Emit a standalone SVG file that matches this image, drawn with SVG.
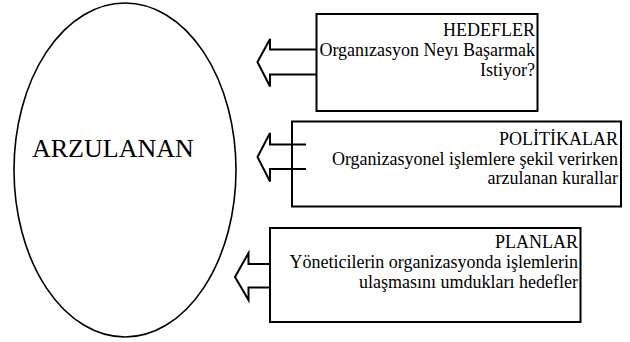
<svg xmlns="http://www.w3.org/2000/svg" width="630" height="342" viewBox="0 0 630 342">
<style>
.box{fill:#fff;stroke:#000;stroke-width:2}
.oval{fill:#fff;stroke:#000;stroke-width:1.6}
.t{font-size:18px;fill:#000;text-anchor:end}
.big{font-size:26px;fill:#000}
.arr{fill:none;stroke:#000;stroke-width:2;stroke-linejoin:miter}
</style>
<rect width="630" height="342" fill="#fff"/>
<g font-family="Liberation Serif, DejaVu Serif, serif">
<g id="arzulanan">
<ellipse class="oval" cx="125" cy="170" rx="111" ry="167"/>
<text class="big" x="32" y="157">ARZULANAN</text>
</g>
<g id="hedefler">
<rect class="box" x="316.5" y="14" width="221" height="97"/>
<text class="t" x="535" y="36">HEDEFLER</text>
<text class="t" x="535" y="56">Organızasyon Neyı Başarmak</text>
<text class="t" x="535" y="76">Istiyor?</text>
</g>
<g id="politikalar">
<rect class="box" x="292" y="121.5" width="329" height="85"/>
<text class="t" x="618" y="145">POLİTİKALAR</text>
<text class="t" x="618" y="165">Organizasyonel işlemlere şekil verirken</text>
<text class="t" x="618" y="184">arzulanan kurallar</text>
</g>
<g id="planlar">
<rect class="box" x="270" y="228" width="310.5" height="94"/>
<text class="t" x="578" y="248">PLANLAR</text>
<text class="t" x="578" y="268">Yöneticilerin organizasyonda işlemlerin</text>
<text class="t" x="578" y="288">ulaşmasını umdukları hedefler</text>
</g>
</g>
<g id="connectors">
<path class="arr" d="M316.5,49.5 H270 V39 L257.5,62 L270,86.5 V74.5 H316.5"/>
<path class="arr" d="M306,144.5 H270 V133 L257.5,157 L270,181.5 V169 H306"/>
<path class="arr" d="M270,264 H248.5 V253 L235,277 L248.5,300 V287.5 H270"/>
</g>
</svg>
